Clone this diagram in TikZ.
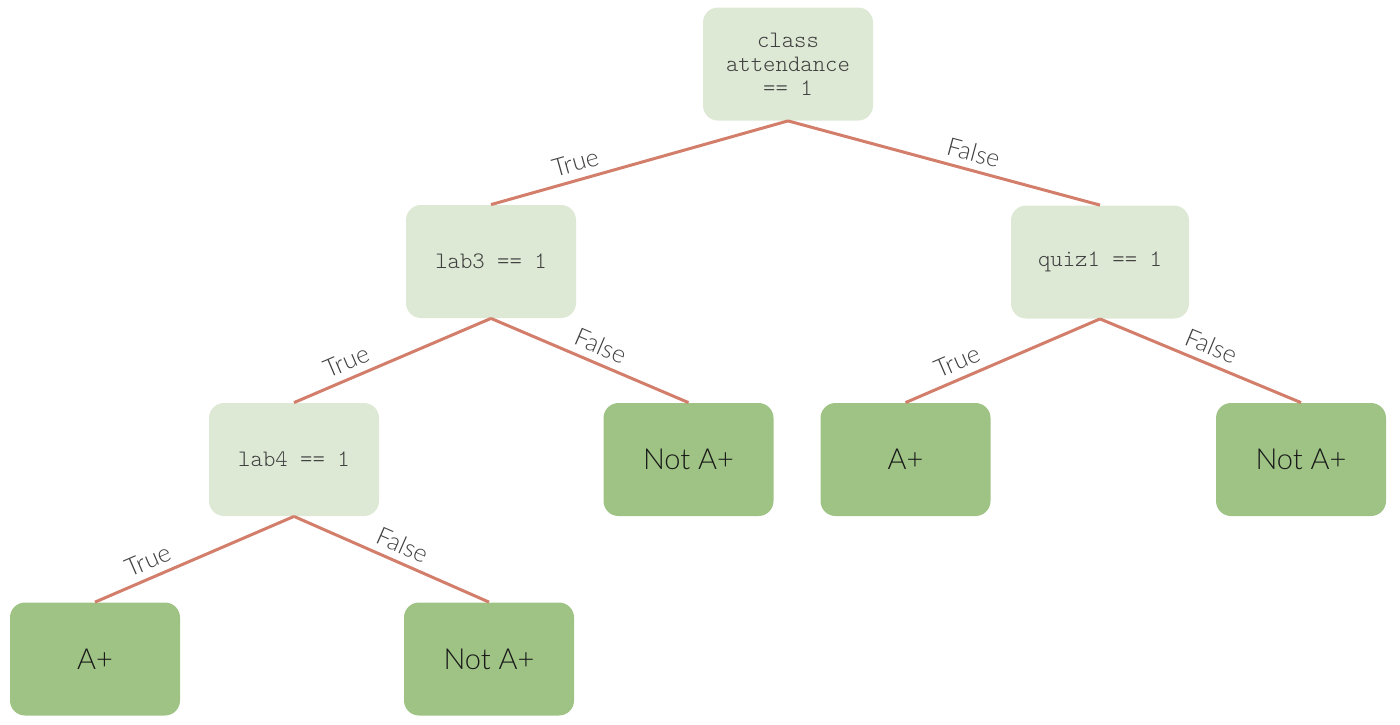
\documentclass[tikz,border=0pt]{standalone}
\usepackage{fontspec}
\setmainfont{Lato}
\newfontfamily\thinfont{Lato Light}
\newfontfamily\codefont{Latin Modern Mono Light}
\definecolor{condfill}{HTML}{DDE9D5}
\definecolor{leaffill}{HTML}{9EC385}
\definecolor{edgecol}{HTML}{D27E6A}
\definecolor{condtext}{HTML}{404040}
\definecolor{labtext}{HTML}{404040}
\begin{document}
\begin{tikzpicture}[x=0.5pt,y=-0.5pt,
  cond/.style={fill=condfill, rounded corners=7.5pt, minimum width=85pt, minimum height=56.5pt,
    inner sep=0pt, align=center, font=\codefont\fontsize{11.8}{12}\selectfont, text=condtext},
  leaf/.style={fill=leaffill, rounded corners=7.5pt, minimum width=85pt, minimum height=56.5pt,
    inner sep=0pt, align=center, font=\thinfont\fontsize{14.5}{16}\selectfont, text=black!90},
  edge/.style={draw=edgecol, line width=1.5pt},
  tlab/.style={sloped, above, pos=0.7, font=\thinfont\fontsize{12.5}{14}\selectfont, text=labtext, inner sep=3.5pt},
  flab/.style={sloped, above, pos=0.52, font=\thinfont\fontsize{12.5}{14}\selectfont, text=labtext, inner sep=3.5pt}]
\useasboundingbox (0,0) rectangle (1400,724);
\node[cond] (root) at (788,64) {class\\attendance\\== 1};
\node[cond] (lab3) at (491,261.5) {lab3 == 1};
\node[cond, minimum width=89pt] (quiz1) at (1100,262) {quiz1 == 1};
\node[cond] (lab4) at (294,459.5) {lab4 == 1};
\node[leaf] (na1) at (688.5,459.5) {Not A+};
\node[leaf] (ap1) at (905.5,459.5) {A+};
\node[leaf] (na2) at (1301,459.5) {Not A+};
\node[leaf] (ap2) at (95,659) {A+};
\node[leaf] (na3) at (489,659) {Not A+};
\draw[edge] (root.south) -- node[tlab] {True} (lab3.north);
\draw[edge] (root.south) -- node[flab, pos=0.58] {False} (quiz1.north);
\draw[edge] (lab3.south) -- node[tlab] {True} (lab4.north);
\draw[edge] (lab3.south) -- node[flab] {False} (na1.north);
\draw[edge] (quiz1.south) -- node[tlab] {True} (ap1.north);
\draw[edge] (quiz1.south) -- node[flab] {False} (na2.north);
\draw[edge] (lab4.south) -- node[tlab] {True} (ap2.north);
\draw[edge] (lab4.south) -- node[flab] {False} (na3.north);
\end{tikzpicture}
\end{document}
